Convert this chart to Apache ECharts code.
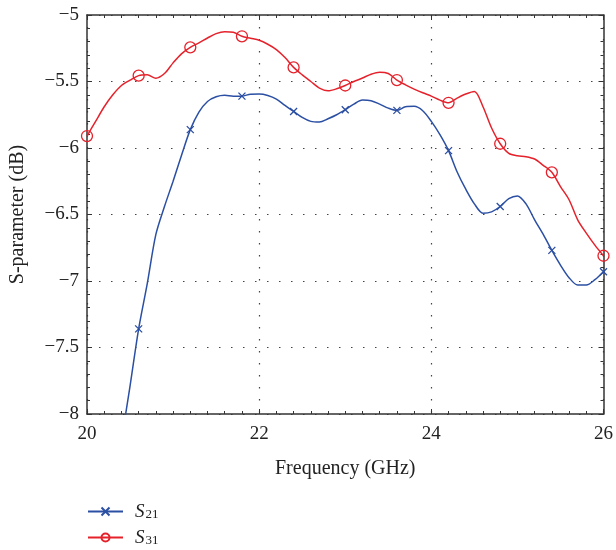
<!DOCTYPE html>
<html>
<head>
<meta charset="utf-8">
<script src="https://cdn.jsdelivr.net/npm/echarts@6/dist/echarts.min.js"></script>
<style>
  html, body { margin: 0; padding: 0; background: #fff; }
  #main { width: 616px; height: 550px; }
</style>
</head>
<body>
<div id="main"></div>
<script>
// frequency samples (GHz)
const freq = [20.0, 20.1, 20.2, 20.3, 20.4, 20.5, 20.6, 20.7, 20.8, 20.9,
  21.0, 21.1, 21.2, 21.3, 21.4, 21.5, 21.6, 21.7, 21.8, 21.9,
  22.0, 22.1, 22.2, 22.3, 22.4, 22.5, 22.6, 22.7, 22.8, 22.9,
  23.0, 23.1, 23.2, 23.3, 23.4, 23.5, 23.6, 23.7, 23.8, 23.9,
  24.0, 24.1, 24.2, 24.3, 24.4, 24.5, 24.6, 24.7, 24.8, 24.9,
  25.0, 25.1, 25.2, 25.3, 25.4, 25.5, 25.6, 25.7, 25.8, 25.9, 26.0]

// S21 (dB), below -8 at the start
const s21 = [null, null, null, null, -8.20, -7.79, -7.36, -7.02, -6.65, -6.44,
  -6.25, -6.05, -5.862, -5.73, -5.65, -5.615, -5.604, -5.61, -5.61, -5.595,
  -5.594, -5.605, -5.632, -5.68, -5.725, -5.77, -5.80, -5.805, -5.78, -5.75,
  -5.712, -5.67, -5.64, -5.645, -5.67, -5.70, -5.717, -5.69, -5.687, -5.72,
  -5.80, -5.90, -6.02, -6.18, -6.31, -6.42, -6.49, -6.48, -6.44, -6.38,
  -6.36, -6.42, -6.54, -6.65, -6.77, -6.88, -6.975, -7.03, -7.03, -6.99, -6.93]

// S31 (dB)
const s31 = [-5.91, -5.80, -5.69, -5.60, -5.53, -5.49, -5.456, -5.45, -5.475, -5.44,
  -5.36, -5.29, -5.243, -5.21, -5.173, -5.14, -5.126, -5.13, -5.16, -5.175,
  -5.19, -5.22, -5.26, -5.32, -5.394, -5.45, -5.50, -5.55, -5.57, -5.555,
  -5.53, -5.50, -5.474, -5.445, -5.43, -5.44, -5.489, -5.525, -5.557, -5.585,
  -5.61, -5.64, -5.66, -5.625, -5.594, -5.575, -5.69, -5.85, -5.968, -6.04,
  -6.058, -6.065, -6.083, -6.13, -6.183, -6.29, -6.389, -6.54, -6.64, -6.73, -6.81]

// frequencies where markers sit
const markerFreq = [20.0, 20.6, 21.2, 21.8, 22.4, 23.0, 23.6, 24.2, 24.8, 25.4, 26.0]

const serifFont = '"Liberation Serif", "DejaVu Serif", serif'
const blue = '#2b4fa3'
const red = '#e5222b'
const crossPath = 'path://M0,0L10,10M10,0L0,10'

function buildData (values, sym) {
  let out = []
  for (let i = 0; i < freq.length; i++) {
    if (values[i] === null) continue
    let isMark = markerFreq.some(f => Math.abs(f - freq[i]) < 1e-6)
    out.push({ value: [freq[i], values[i]], symbol: isMark ? sym : 'none' })
  }
  return out
}

const axisLine = { show: true, lineStyle: { color: '#333', width: 1.5 } }
const dotted = { show: true, lineStyle: { color: '#444', type: [1.5, 10.5], width: 1.2 } }
const legendRich = {
  s: { fontFamily: serifFont, fontStyle: 'italic', fontSize: 19, color: '#222', lineHeight: 19, padding: [0, 0, 0, 7] },
  sub: { fontFamily: serifFont, fontSize: 13, color: '#222', verticalAlign: 'bottom', padding: [8, 0, 0, 1], lineHeight: 19 }
}

function makeLegend (name, top) {
  return {
    orient: 'vertical',
    left: 82,
    top: top,
    padding: 5,
    itemWidth: 35,
    itemHeight: 10,
    data: [name],
    formatter: n => '{s|S}{sub|' + n.slice(1) + '}',
    textStyle: { rich: legendRich }
  }
}

let myChart = echarts.init(document.getElementById('main'))
let options = {
  animation: false,
  grid: { left: 87, right: 10, top: 15, bottom: 136 },
  legend: [makeLegend('S21', 495), makeLegend('S31', 521)],
  xAxis: [{
    type: 'value',
    min: 20,
    max: 26,
    interval: 2,
    name: 'Frequency (GHz)',
    nameLocation: 'middle',
    nameGap: 45,
    nameTextStyle: { fontFamily: serifFont, fontSize: 20, color: '#222' },
    axisLine: axisLine,
    axisTick: { inside: true, length: 5, lineStyle: { color: '#333' } },
    minorTick: { show: true, splitNumber: 10, length: 3, lineStyle: { color: '#333' } },
    axisLabel: { fontFamily: serifFont, fontSize: 19, color: '#222', margin: 11 },
    splitLine: dotted
  }, {
    type: 'value',
    position: 'top',
    min: 20,
    max: 26,
    interval: 2,
    axisLine: axisLine,
    axisTick: { inside: true, length: 5, lineStyle: { color: '#333' } },
    minorTick: { show: true, splitNumber: 10, length: 3, lineStyle: { color: '#333' } },
    axisLabel: { show: false },
    splitLine: { show: false }
  }],
  yAxis: [{
    type: 'value',
    min: -8,
    max: -5,
    interval: 0.5,
    name: 'S-parameter (dB)',
    nameLocation: 'middle',
    nameGap: 59,
    nameTextStyle: { fontFamily: serifFont, fontSize: 20, color: '#222' },
    axisLine: axisLine,
    axisTick: { inside: true, length: 5, lineStyle: { color: '#333' } },
    minorTick: { show: true, splitNumber: 5, length: 3, lineStyle: { color: '#333' } },
    axisLabel: {
      fontFamily: serifFont, fontSize: 19, color: '#222', margin: 8,
      formatter: v => String(v).replace('-', '\u2212')
    },
    splitLine: dotted
  }, {
    type: 'value',
    position: 'right',
    min: -8,
    max: -5,
    interval: 0.5,
    axisLine: axisLine,
    axisTick: { inside: true, length: 5, lineStyle: { color: '#333' } },
    minorTick: { show: true, splitNumber: 5, length: 3, lineStyle: { color: '#333' } },
    axisLabel: { show: false },
    splitLine: { show: false }
  }],
  series: [{
    name: 'S21',
    type: 'line',
    smooth: 0.3,
    symbol: crossPath,
    symbolSize: 7,
    showAllSymbol: true,
    clip: true,
    itemStyle: { color: blue, borderColor: blue, borderWidth: 1.3 },
    lineStyle: { color: blue, width: 1.5 },
    data: buildData(s21, crossPath)
  }, {
    name: 'S31',
    type: 'line',
    smooth: 0.3,
    symbol: 'circle',
    symbolSize: 11,
    showAllSymbol: true,
    clip: false,
    itemStyle: { color: 'rgba(255,255,255,0)', borderColor: red, borderWidth: 1.3 },
    lineStyle: { color: red, width: 1.5 },
    data: buildData(s31, 'circle')
  }]
}
myChart.setOption(options)
</script>
</body>
</html>
